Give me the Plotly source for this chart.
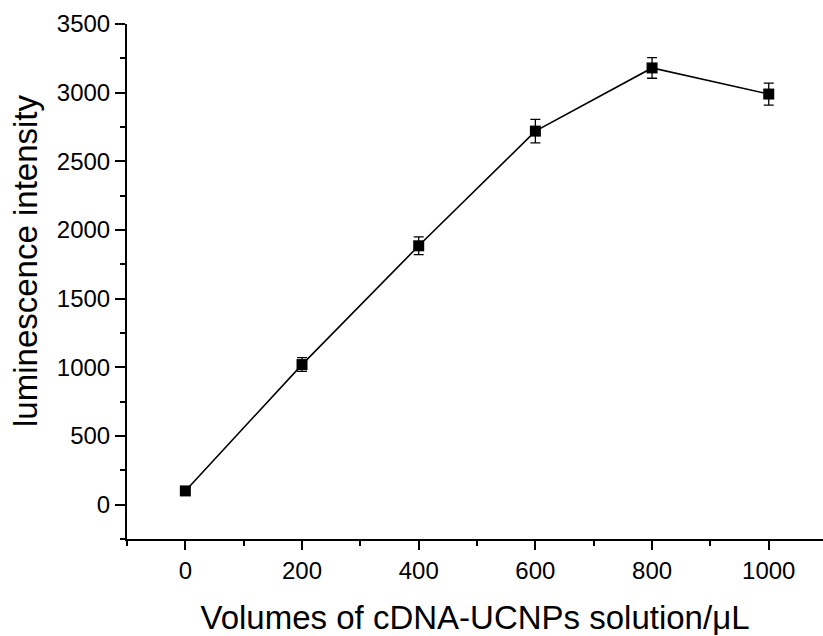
import plotly.graph_objects as go

# Luminescence intensity versus cDNA-UCNPs volume
volumes = [0, 200, 400, 600, 800, 1000]
intensity = [100, 1020, 1885, 2720, 3180, 2990]
errors = [30, 50, 65, 85, 75, 80]

x_ticks = [0, 200, 400, 600, 800, 1000]
y_ticks = [0, 500, 1000, 1500, 2000, 2500, 3000, 3500]

font_family = "Liberation Sans, Arial, sans-serif"

fig = go.Figure()
fig.add_trace(go.Scatter(
    x=volumes,
    y=intensity,
    mode="lines+markers",
    line=dict(color="black", width=1.6),
    marker=dict(symbol="square", size=11, color="black"),
    error_y=dict(type="data", array=errors, visible=True,
                 color="black", thickness=1.3, width=5),
    showlegend=False,
))

# y-axis title placed slightly above the plot-area centre
fig.add_annotation(
    text="luminescence intensity",
    xref="paper", yref="paper",
    x=-0.145, y=0.54,
    xanchor="center", yanchor="middle",
    textangle=-90,
    showarrow=False,
    font=dict(size=33, family=font_family, color="black"),
)

fig.update_layout(
    width=823,
    height=636,
    margin=dict(l=127, r=0, t=24, b=97),
    paper_bgcolor="white",
    plot_bgcolor="white",
    font=dict(family=font_family, color="black", size=24),
    xaxis=dict(
        range=[-100, 1093],
        tickvals=x_ticks,
        ticks="outside",
        ticklen=9,
        tickwidth=1.5,
        tickcolor="black",
        showline=True,
        linecolor="black",
        linewidth=2,
        showgrid=False,
        zeroline=False,
        minor=dict(dtick=100, tick0=-100, ticks="outside", ticklen=5,
                   tickwidth=1.5, tickcolor="black", showgrid=False),
        tickfont=dict(size=24),
        title=dict(text="Volumes of cDNA-UCNPs solution/μL",
                   font=dict(size=33), standoff=24),
    ),
    yaxis=dict(
        range=[-250, 3500],
        tickvals=y_ticks,
        ticks="outside",
        ticklen=10,
        tickwidth=1.5,
        tickcolor="black",
        showline=True,
        linecolor="black",
        linewidth=2,
        showgrid=False,
        zeroline=False,
        minor=dict(dtick=250, tick0=-250, ticks="outside", ticklen=5,
                   tickwidth=1.5, tickcolor="black", showgrid=False),
        tickfont=dict(size=24),
    ),
)

fig.write_html("out.html")
